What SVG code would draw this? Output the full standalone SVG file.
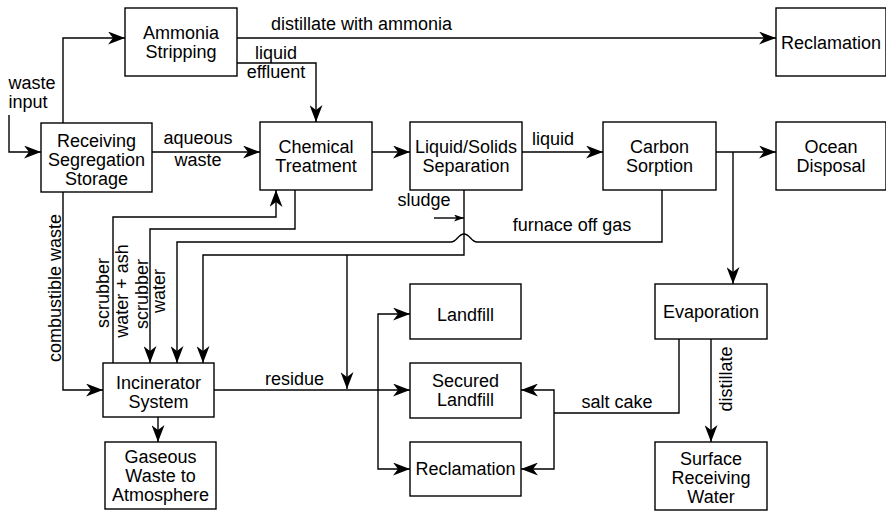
<svg xmlns="http://www.w3.org/2000/svg" width="886" height="512" viewBox="0 0 886 512">
<style>
  .box { fill: #fff; stroke: #000; stroke-width: 1.4; }
  .lbl { font-family: "Liberation Sans", Arial, sans-serif; font-size: 18px; fill: #000; }
  .c { text-anchor: middle; }
  .ln { fill: none; stroke: #000; stroke-width: 1.4; }
  .a { marker-end: url(#arr); }
</style>
<defs>
  <marker id="arr" markerUnits="userSpaceOnUse" markerWidth="17" markerHeight="13" refX="17" refY="6.5" orient="auto" viewBox="0 0 17 13">
    <path d="M0,0 L17,6.5 L0,13 L5,6.5 Z" fill="#000"/>
  </marker>
  <marker id="sm" markerUnits="userSpaceOnUse" markerWidth="10" markerHeight="7" refX="10" refY="3.5" orient="auto" viewBox="0 0 10 7">
    <path d="M0,0 L10,3.5 L0,7 L2.5,3.5 Z" fill="#000"/>
  </marker>
</defs>
<rect width="886" height="512" fill="#fff"/>

<g id="connectors">
  <path class="ln a" d="M9,115 V152 H41"/>
  <path class="ln a" d="M63,123 V38 H125"/>
  <path class="ln a" d="M237,38 H776"/>
  <path class="ln a" d="M237,63 H316 V122"/>
  <path class="ln a" d="M152,152 H260"/>
  <path class="ln a" d="M372,152 H410"/>
  <path class="ln a" d="M522,152 H603"/>
  <path class="ln a" d="M716,152 H776"/>
  <path class="ln a" d="M733,152 V284"/>
  <path class="ln a" d="M711,339 V442"/>
  <path class="ln" d="M679,339 V413 H554"/>
  <path class="ln a" d="M554,413 V390 H521"/>
  <path class="ln a" d="M554,413 V469 H521"/>
  <path class="ln a" d="M63,192 V390 H103"/>
  <path class="ln a" d="M158,417 V442"/>
  <path class="ln a" d="M214,390 H410"/>
  <path class="ln a" d="M378,390 V314 H410"/>
  <path class="ln a" d="M378,390 V469 H410"/>
  <path class="ln a" d="M113,363 V217 H276 V190"/>
  <path class="ln a" d="M295,190 V229 H150 V363"/>
  <path class="ln a" d="M662,190 V242 H477 C471,242 470,234 464,234 C458,234 457,242 451,242 H177 V363"/>
  <path class="ln a" d="M464,190 V255 H203 V363"/>
  <path class="ln a" d="M347,255 V389"/>
  <path class="ln" d="M434,218 H464" marker-end="url(#sm)"/>
</g>

<g id="labels" class="lbl">
  <text x="8.5" y="89">waste</text>
  <text x="8.5" y="108">input</text>
  <text class="c" x="361.5" y="30">distillate with ammonia</text>
  <text class="c" x="276" y="59">liquid</text>
  <text class="c" x="276" y="78">effluent</text>
  <text class="c" x="198" y="144">aqueous</text>
  <text class="c" x="198" y="165.5">waste</text>
  <text class="c" x="553" y="145">liquid</text>
  <text class="c" x="424" y="206">sludge</text>
  <text class="c" x="572" y="231">furnace off gas</text>
  <text class="c" x="294.5" y="385">residue</text>
  <text class="c" x="617" y="408">salt cake</text>
  <text class="c" transform="translate(731.5,379) rotate(-90)">distillate</text>
  <text class="c" transform="translate(60.5,288) rotate(-90)">combustible waste</text>
  <text class="c" transform="translate(109,293) rotate(-90)">scrubber</text>
  <text class="c" transform="translate(128,291) rotate(-90)">water + ash</text>
  <text class="c" transform="translate(147.5,294) rotate(-90)">scrubber</text>
  <text class="c" transform="translate(164.5,291) rotate(-90)">water</text>
</g>

<g id="ammonia">
  <rect class="box" x="125" y="8" width="112" height="68"/>
  <text class="lbl c" x="181" y="38.5">Ammonia</text>
  <text class="lbl c" x="181" y="57.5">Stripping</text>
</g>
<g id="reclamation-top">
  <rect class="box" x="776" y="8" width="110" height="68"/>
  <text class="lbl c" x="831" y="49">Reclamation</text>
</g>
<g id="receiving">
  <rect class="box" x="41" y="123" width="111" height="69"/>
  <text class="lbl c" x="96.5" y="147">Receiving</text>
  <text class="lbl c" x="96.5" y="166">Segregation</text>
  <text class="lbl c" x="96.5" y="185">Storage</text>
</g>
<g id="chemical">
  <rect class="box" x="260" y="122" width="112" height="68"/>
  <text class="lbl c" x="316" y="152.5">Chemical</text>
  <text class="lbl c" x="316" y="171.5">Treatment</text>
</g>
<g id="liquidsolids">
  <rect class="box" x="410" y="122" width="112" height="68"/>
  <text class="lbl c" x="466" y="152.5">Liquid/Solids</text>
  <text class="lbl c" x="466" y="171.5">Separation</text>
</g>
<g id="carbon">
  <rect class="box" x="603" y="122" width="113" height="68"/>
  <text class="lbl c" x="659.5" y="152.5">Carbon</text>
  <text class="lbl c" x="659.5" y="171.5">Sorption</text>
</g>
<g id="ocean">
  <rect class="box" x="776" y="122" width="110" height="68"/>
  <text class="lbl c" x="831" y="152.5">Ocean</text>
  <text class="lbl c" x="831" y="171.5">Disposal</text>
</g>
<g id="incinerator">
  <rect class="box" x="103" y="363" width="111" height="54"/>
  <text class="lbl c" x="158.5" y="388.5">Incinerator</text>
  <text class="lbl c" x="158.5" y="407.5">System</text>
</g>
<g id="gaseous">
  <rect class="box" x="105" y="442" width="111" height="67"/>
  <text class="lbl c" x="160.5" y="463">Gaseous</text>
  <text class="lbl c" x="160.5" y="482">Waste to</text>
  <text class="lbl c" x="160.5" y="501">Atmosphere</text>
</g>
<g id="landfill">
  <rect class="box" x="410" y="284" width="111" height="55"/>
  <text class="lbl c" x="465.5" y="321">Landfill</text>
</g>
<g id="secured">
  <rect class="box" x="410" y="363" width="111" height="55"/>
  <text class="lbl c" x="465.5" y="387">Secured</text>
  <text class="lbl c" x="465.5" y="406">Landfill</text>
</g>
<g id="reclamation-bottom">
  <rect class="box" x="410" y="442" width="111" height="54"/>
  <text class="lbl c" x="465.5" y="475">Reclamation</text>
</g>
<g id="evaporation">
  <rect class="box" x="655" y="284" width="112" height="55"/>
  <text class="lbl c" x="711" y="318">Evaporation</text>
</g>
<g id="surface">
  <rect class="box" x="655" y="442" width="112" height="68"/>
  <text class="lbl c" x="711" y="465">Surface</text>
  <text class="lbl c" x="711" y="484">Receiving</text>
  <text class="lbl c" x="711" y="503">Water</text>
</g>
</svg>
